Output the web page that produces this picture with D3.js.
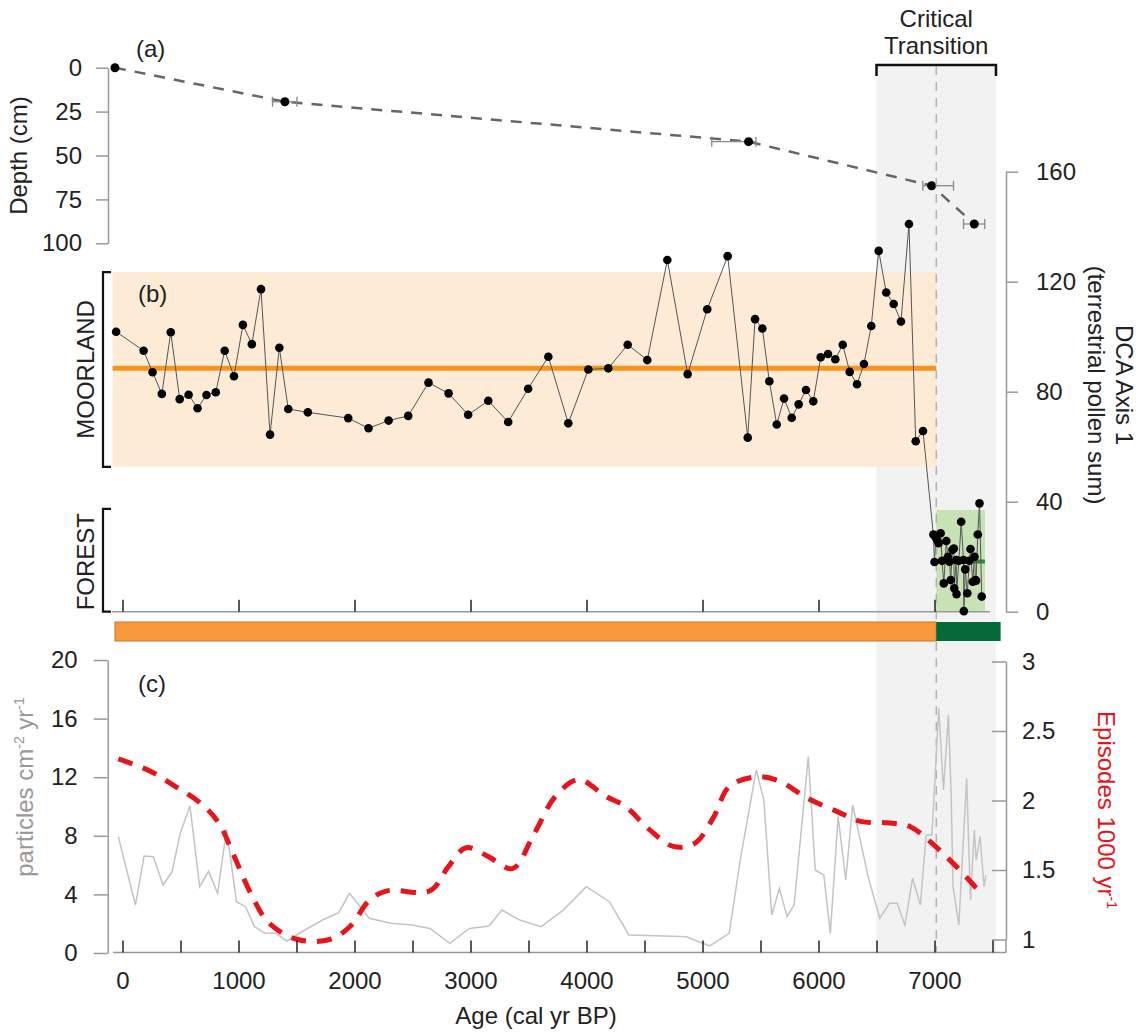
<!DOCTYPE html>
<html>
<head>
<meta charset="utf-8">
<script src="https://cdn.jsdelivr.net/npm/d3@7"></script>
<style>
  body { margin: 0; background: #fff; }
  svg text { font-family: "Liberation Sans", Arial, sans-serif; }
</style>
</head>
<body>
<div id="chart"></div>
<script>
// (a) age-depth model
var depthAge = [-65, 1400, 5397, 6975, 7343];
var depthCm = [0, 19.4, 42.1, 67.2, 89];
var depthErrLo = [null, 1293, 5080, 6900, 7250];
var depthErrHi = [null, 1504, 5461, 7164, 7433];
var depthTicks = [0, 25, 50, 75, 100];

// (b) DCA axis 1 scores
var dcaAge = [-55, 182, 259, 339, 416, 493, 570, 647, 724, 804, 881, 961, 1038, 1115, 1194, 1272, 1352, 1429, 1598,
  1946, 2121, 2294, 2463, 2638, 2811, 2980, 3153, 3325, 3497, 3671, 3843, 4016, 4188, 4355, 4524, 4697, 4872,
  5041, 5217, 5390, 5453, 5516, 5576, 5640, 5703, 5769, 5829, 5892, 5955, 6019, 6082, 6145, 6209, 6269, 6332,
  6392, 6455, 6519, 6584, 6648, 6711, 6780, 6838, 6901,
  6990, 7000, 7011, 7022, 7036, 7053, 7065, 7080, 7102, 7116, 7129, 7140, 7155, 7167, 7170, 7187, 7190, 7210,
  7230, 7250, 7253, 7265, 7283, 7300, 7310, 7330, 7345, 7353, 7358, 7373, 7388, 7407];
var dcaVal = [101.8, 94.9, 87.1, 79.2, 101.6, 77.3, 78.9, 74, 78.8, 79.8, 94.9, 85.6, 104.3, 97.3, 117.3, 64.4, 96, 73.7, 72.5,
  70.4, 66.7, 69.5, 71.2, 83.3, 79.4, 71.6, 76.7, 69, 81.1, 92.7, 68.5, 88.1, 88.5, 97.1, 91.5, 127.9, 86.4,
  110, 129.3, 63.3, 106.4, 103, 83.8, 68.1, 77.5, 70.5, 75.4, 80.6, 76.5, 92.5, 93.7, 91.8, 97.1, 87.2, 82.7,
  90.1, 103.9, 131.2, 116.1, 111.9, 105.5, 141, 62, 65.7,
  28.1, 18.1, 27.0, 26.1, 24.9, 28.5, 18.5, 10.3, 25.7, 20.0, 18.2, 11.5, 22.5, 23.0, 8.5, 18.8, 6.4, 18.5,
  32.7, 18.8, 0.2, 15.4, 6.7, 18.5, 22.8, 10.9, 20.0, 11.5, 11.3, 28.1, 39.4, 5.5];
var dcaTicks = [0, 40, 80, 120, 160];

// states: moorland / forest  (age range, value range, mean)
var stateNames = ["MOORLAND", "FOREST"];
var stateAgeFrom = [-85, 7015];
var stateAgeTo = [7015, 7435];
var stateLow = [52.7, 0];
var stateHigh = [123.5, 37];
var stateMean = [88.5, 18.3];
var stateBarFrom = [-65, 7015];
var stateBarTo = [7015, 7570];

// critical transition
var transitionFrom = 6500;
var transitionTo = 7530;
var transitionAge = 7015;

// (c) charcoal influx and fire episodes
var charAge = [-36, 112, 186, 266, 350, 427, 498, 582, 665, 742, 820, 897, 983, 1060, 1138, 1230, 1323, 1416, 1571,
  1725, 1864, 1957, 2127, 2312, 2497, 2651, 2822, 2991, 3161, 3270, 3424, 3610, 3799, 3998, 4198, 4365, 4598,
  4864, 4930, 5064, 5230, 5330, 5463, 5529, 5597, 5663, 5729, 5790, 5912, 5972, 6046, 6102, 6169, 6235, 6295,
  6428, 6528, 6611, 6678, 6745, 6811, 6878, 6928, 6978, 7037, 7077, 7120, 7144, 7160, 7210, 7277, 7310, 7343,
  7360, 7393, 7427, 7443];
var charVal = [7.94, 3.28, 6.62, 6.57, 4.64, 5.55, 8.17, 10.03, 4.53, 5.58, 4.07, 8.44, 3.5, 3.16, 1.8, 1.34, 1.34, 0.82, 1.57,
  2.25, 2.75, 4.07, 2.37, 2.03, 1.91, 1.68, 0.66, 1.68, 1.84, 2.93, 2.25, 1.8, 2.93, 4.53, 3.5, 1.23, 1.18,
  1.11, 0.89, 0.48, 1.34, 6.57, 12.49, 10.44, 2.59, 4.42, 2.48, 3.28, 13.4, 5.67, 5.32, 1.34, 9.3, 4.98, 10.1,
  5.21, 2.37, 3.39, 3.39, 1.91, 5.1, 3.28, 8.05, 8.05, 16.7, 11.13, 16.24, 10.67, 4.53, 1.91, 11.92, 3.62, 8.4,
  6.35, 7.94, 4.53, 5.32];
var charTicks = [0, 4, 8, 12, 16, 20];

var epiAge = [-36, 241, 458, 674, 829, 952, 1107, 1261, 1509, 1786, 1957, 2127, 2280, 2651, 2806, 2961, 3147, 3362,
  3548, 3732, 3932, 4165, 4332, 4530, 4747, 4930, 5096, 5230, 5463, 5663, 5896, 6162, 6362, 6595, 6795, 6994,
  7194, 7360];
var epiVal = [2.30, 2.21, 2.10, 1.98, 1.84, 1.62, 1.33, 1.12, 1.00, 1.00, 1.09, 1.28, 1.35, 1.35, 1.52, 1.66, 1.60, 1.51,
  1.76, 2.03, 2.15, 2.03, 1.96, 1.80, 1.67, 1.69, 1.88, 2.10, 2.17, 2.14, 2.02, 1.92, 1.85, 1.84, 1.81, 1.68,
  1.52, 1.37];
var epiTicks = [1, 1.5, 2, 2.5, 3];

var ageTicks = d3.range(0, 7501, 500);
var ageTicksB = d3.range(0, 7001, 1000);

var width = 1142, height = 1034;
var font = 24;

var svg = d3.select("#chart").append("svg")
  .attr("width", width)
  .attr("height", height);

// scales
var x = d3.scaleLinear().domain([0, 7000]).range([122.5, 934.5]);
var yDepth = d3.scaleLinear().domain([0, 100]).range([67.7, 243.3]);
var yDca = d3.scaleLinear().domain([0, 160]).range([611.7, 171.7]);
var yChar = d3.scaleLinear().domain([0, 20]).range([953, 660]);
var yEpi = d3.scaleLinear().domain([1, 3]).range([939.5, 661.5]);

function styleAxis(g, lineColor, tickColor) {
  g.attr("font-size", font).attr("font-family", "Liberation Sans, Arial, sans-serif");
  g.select(".domain").attr("stroke", lineColor).attr("stroke-width", 1.5);
  g.selectAll(".tick line").attr("stroke", tickColor).attr("stroke-width", 1.5);
  g.selectAll(".tick text").attr("fill", "#222");
}

// critical transition shading
svg.append("rect")
  .attr("x", x(transitionFrom))
  .attr("y", 65)
  .attr("width", x(transitionTo) - x(transitionFrom))
  .attr("height", 952 - 65)
  .attr("fill", "#f2f2f2");

// bracket
svg.append("path")
  .attr("d", "M" + x(transitionFrom) + ",76V65H" + x(transitionTo) + "V76")
  .attr("fill", "none")
  .attr("stroke", "#111")
  .attr("stroke-width", 2.5);

svg.append("text").attr("x", x(transitionAge)).attr("y", 27)
  .attr("text-anchor", "middle").attr("font-size", font).attr("fill", "#222").text("Critical");
svg.append("text").attr("x", x(transitionAge)).attr("y", 54)
  .attr("text-anchor", "middle").attr("font-size", font).attr("fill", "#222").text("Transition");

// ---------- (a) ----------
var axA = svg.append("g")
  .attr("transform", "translate(108,0)")
  .call(d3.axisLeft(yDepth).tickValues(depthTicks).tickSize(12).tickSizeOuter(0).tickPadding(14));
styleAxis(axA, "#999", "#999");

svg.append("text")
  .attr("transform", "translate(19," + yDepth(50) + ") rotate(-90)")
  .attr("text-anchor", "middle").attr("dy", "0.35em")
  .attr("font-size", font).attr("fill", "#222").text("Depth (cm)");

svg.append("text").attr("x", 136).attr("y", 57).attr("font-size", font).attr("fill", "#222").text("(a)");

var depthLine = d3.line()
  .x(function(d, i) { return x(depthAge[i]); })
  .y(function(d) { return yDepth(d); });

svg.append("path")
  .attr("d", depthLine(depthCm))
  .attr("fill", "none")
  .attr("stroke", "#666")
  .attr("stroke-width", 2.5)
  .attr("stroke-dasharray", "11,9");

var errs = svg.selectAll(".err")
  .data(depthCm.map(function(d, i) { return {v: d, lo: depthErrLo[i], hi: depthErrHi[i]}; })
    .filter(function(d) { return d.lo !== null; }))
  .enter().append("g").attr("class", "err")
  .attr("stroke", "#888").attr("stroke-width", 1.3);
errs.append("line")
  .attr("x1", function(d) { return x(d.lo); }).attr("x2", function(d) { return x(d.hi); })
  .attr("y1", function(d) { return yDepth(d.v); }).attr("y2", function(d) { return yDepth(d.v); });
errs.append("line")
  .attr("x1", function(d) { return x(d.lo); }).attr("x2", function(d) { return x(d.lo); })
  .attr("y1", function(d) { return yDepth(d.v) - 5; }).attr("y2", function(d) { return yDepth(d.v) + 5; });
errs.append("line")
  .attr("x1", function(d) { return x(d.hi); }).attr("x2", function(d) { return x(d.hi); })
  .attr("y1", function(d) { return yDepth(d.v) - 5; }).attr("y2", function(d) { return yDepth(d.v) + 5; });

svg.selectAll(".dpt")
  .data(depthCm)
  .enter().append("circle")
  .attr("cx", function(d, i) { return x(depthAge[i]); })
  .attr("cy", function(d) { return yDepth(d); })
  .attr("r", 4.5)
  .attr("fill", "#000");

// ---------- (b) ----------
var stateFill = ["#fdebd5", "#c8e2b5"];
var stateLine = ["#f7941d", "#2e8b3e"];

svg.selectAll(".state")
  .data(stateNames)
  .enter().append("rect")
  .attr("x", function(d, i) { return x(stateAgeFrom[i]); })
  .attr("y", function(d, i) { return yDca(stateHigh[i]); })
  .attr("width", function(d, i) { return x(stateAgeTo[i]) - x(stateAgeFrom[i]); })
  .attr("height", function(d, i) { return yDca(stateLow[i]) - yDca(stateHigh[i]); })
  .attr("fill", function(d, i) { return stateFill[i]; });

svg.selectAll(".mean")
  .data(stateMean)
  .enter().append("line")
  .attr("x1", function(d, i) { return x(stateAgeFrom[i]); })
  .attr("x2", function(d, i) { return x(stateAgeTo[i]); })
  .attr("y1", function(d) { return yDca(d); })
  .attr("y2", function(d) { return yDca(d); })
  .attr("stroke", function(d, i) { return stateLine[i]; })
  .attr("stroke-width", function(d, i) { return i === 0 ? 5 : 4; });

// transition line
svg.append("line")
  .attr("x1", x(transitionAge)).attr("x2", x(transitionAge))
  .attr("y1", 66).attr("y2", 952)
  .attr("stroke", "#aaa").attr("stroke-width", 1.3)
  .attr("stroke-dasharray", "9,7");

// state brackets and names
var bracketX = 103;
svg.selectAll(".brk")
  .data(stateNames)
  .enter().append("path")
  .attr("d", function(d, i) {
    var top = i === 0 ? yDca(stateHigh[0]) : yDca(stateHigh[1]) - 1;
    var bot = i === 0 ? yDca(stateLow[0]) : yDca(0);
    return "M" + (bracketX + 8) + "," + top + "H" + bracketX + "V" + bot + "H" + (bracketX + 8);
  })
  .attr("fill", "none").attr("stroke", "#111").attr("stroke-width", 2.2);

svg.selectAll(".sname")
  .data(stateNames)
  .enter().append("text")
  .attr("transform", function(d, i) {
    var cy = i === 0 ? (yDca(stateHigh[0]) + yDca(stateLow[0])) / 2 : 561.7;
    return "translate(86," + cy + ") rotate(-90)";
  })
  .attr("text-anchor", "middle").attr("dy", "0.35em")
  .attr("font-size", font).attr("fill", "#222")
  .text(function(d) { return d; });

svg.append("text").attr("x", 138).attr("y", 302).attr("font-size", font).attr("fill", "#222").text("(b)");

// bottom line of (b)
svg.append("line")
  .attr("x1", 112).attr("x2", 990)
  .attr("y1", yDca(0)).attr("y2", yDca(0))
  .attr("stroke", "#999").attr("stroke-width", 1.5);
var axB = svg.append("g")
  .attr("transform", "translate(0," + yDca(0) + ")")
  .call(d3.axisBottom(x).tickValues(ageTicksB).tickSize(-12).tickSizeOuter(0).tickFormat(""));
axB.select(".domain").remove();
axB.selectAll(".tick line").attr("stroke", "#222").attr("stroke-width", 1.5);

var dcaLine = d3.line()
  .x(function(d, i) { return x(dcaAge[i]); })
  .y(function(d) { return yDca(d); });
svg.append("path")
  .attr("d", dcaLine(dcaVal))
  .attr("fill", "none").attr("stroke", "#555").attr("stroke-width", 1);

svg.selectAll(".dca")
  .data(dcaVal)
  .enter().append("circle")
  .attr("cx", function(d, i) { return x(dcaAge[i]); })
  .attr("cy", function(d) { return yDca(d); })
  .attr("r", 4.3)
  .attr("fill", "#000");

var axBR = svg.append("g")
  .attr("transform", "translate(1006,0)")
  .call(d3.axisRight(yDca).tickValues(dcaTicks).tickSize(12).tickSizeOuter(0).tickPadding(18));
styleAxis(axBR, "#999", "#999");

svg.append("text")
  .attr("transform", "translate(1124," + 385 + ") rotate(90)")
  .attr("text-anchor", "middle").attr("dy", "0.35em")
  .attr("font-size", font).attr("fill", "#222").text("DCA Axis 1");
svg.append("text")
  .attr("transform", "translate(1096," + 385 + ") rotate(90)")
  .attr("text-anchor", "middle").attr("dy", "0.35em")
  .attr("font-size", font).attr("fill", "#222").text("(terrestrial pollen sum)");

// state bar
var barFill = ["#f7993a", "#046a38"];
svg.selectAll(".sbar")
  .data(stateNames)
  .enter().append("rect")
  .attr("x", function(d, i) { return x(stateBarFrom[i]); })
  .attr("y", 622)
  .attr("width", function(d, i) { return x(stateBarTo[i]) - x(stateBarFrom[i]); })
  .attr("height", 19)
  .attr("fill", function(d, i) { return barFill[i]; })
  .attr("stroke", function(d, i) { return i === 0 ? "#c9782c" : "none"; })
  .attr("stroke-width", 1);

// ---------- (c) ----------
var charLine = d3.line()
  .x(function(d, i) { return x(charAge[i]); })
  .y(function(d) { return yChar(d); });
svg.append("path")
  .attr("d", charLine(charVal))
  .attr("fill", "none").attr("stroke", "#c4c4c4").attr("stroke-width", 1.5);

var epiLine = d3.line()
  .x(function(d, i) { return x(epiAge[i]); })
  .y(function(d) { return yEpi(d); })
  .curve(d3.curveCatmullRom);
svg.append("path")
  .attr("d", epiLine(epiVal))
  .attr("fill", "none").attr("stroke", "#e8141c").attr("stroke-width", 5)
  .attr("stroke-dasharray", "15,11");

var axCL = svg.append("g")
  .attr("transform", "translate(107.7,0)")
  .call(d3.axisLeft(yChar).tickValues(charTicks).tickSize(14).tickSizeOuter(0).tickPadding(16));
styleAxis(axCL, "#999", "#999");

var axCR = svg.append("g")
  .attr("transform", "translate(1006,0)")
  .call(d3.axisRight(yEpi).tickValues(epiTicks).tickSize(-14).tickSizeOuter(0).tickPadding(16)
    .tickFormat(d3.format("~g")));
styleAxis(axCR, "#999", "#999");
svg.append("line")
  .attr("x1", 1006).attr("x2", 1006).attr("y1", yEpi(1)).attr("y2", 952.5)
  .attr("stroke", "#999").attr("stroke-width", 1.5);

svg.append("line")
  .attr("x1", 113).attr("x2", 1006)
  .attr("y1", 952.5).attr("y2", 952.5)
  .attr("stroke", "#999").attr("stroke-width", 1.5);
var axC = svg.append("g")
  .attr("transform", "translate(0,952.5)")
  .call(d3.axisBottom(x).tickValues(ageTicks).tickSize(-12).tickSizeOuter(0).tickPadding(19)
    .tickFormat(function(d) { return d % 1000 === 0 ? d : ""; }));
styleAxis(axC, "#999", "#222");
axC.select(".domain").remove();
axC.selectAll(".tick text").attr("y", 19).attr("dy", "0.71em");

svg.append("text").attr("x", 138).attr("y", 692).attr("font-size", font).attr("fill", "#222").text("(c)");

svg.append("text")
  .attr("x", 536).attr("y", 1024)
  .attr("text-anchor", "middle").attr("font-size", font).attr("fill", "#222")
  .text("Age (cal yr BP)");

var partLabel = svg.append("text")
  .attr("transform", "translate(25,787) rotate(-90)")
  .attr("text-anchor", "middle").attr("dy", "0.35em")
  .attr("font-size", font).attr("fill", "#999");
partLabel.append("tspan").text("particles cm");
partLabel.append("tspan").attr("font-size", 14).attr("dy", -9).text("-2");
partLabel.append("tspan").attr("dy", 9).text(" yr");
partLabel.append("tspan").attr("font-size", 14).attr("dy", -9).text("-1");

var epiLabel = svg.append("text")
  .attr("transform", "translate(1106,810) rotate(90)")
  .attr("text-anchor", "middle").attr("dy", "0.35em")
  .attr("font-size", font).attr("fill", "#e8141c");
epiLabel.append("tspan").text("Episodes 1000 yr");
epiLabel.append("tspan").attr("font-size", 14).attr("dy", -9).text("-1");
</script>
</body>
</html>
